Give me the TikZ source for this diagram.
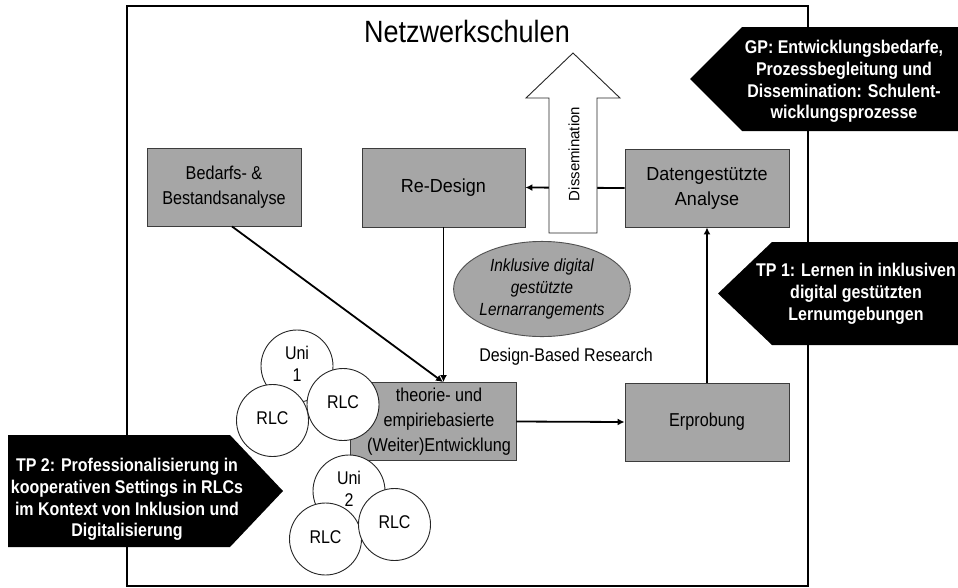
\documentclass[tikz,border=0pt]{standalone}
\usepackage{fontspec}
\setmainfont{Liberation Sans}
\usepackage{graphicx}
\usetikzlibrary{arrows.meta,shapes.geometric}

% centred, slightly tall text block
\newcommand{\tallt}[2][1.15]{\scalebox{1}[#1]{\begin{tabular}{@{}c@{}}#2\end{tabular}}}

\definecolor{boxgray}{RGB}{166,166,166}
\definecolor{boxline}{RGB}{60,60,60}
\definecolor{ellline}{RGB}{80,80,80}

\tikzset{
  box/.style={draw=boxline, fill=boxgray, line width=0.9pt, inner sep=0pt,
    font=\fontsize{16.2}{21.7}\selectfont},
  bigbox/.style={box, font=\fontsize{18}{23.5}\selectfont},
  ring/.style={circle, draw=black!85, fill=white, line width=0.9pt,
    minimum size=72pt, inner sep=0pt, font=\fontsize{16}{19}\selectfont},
  conn/.style={line width=1.8pt, -{Latex[length=7pt,width=7pt]}},
  lbl/.style={text=white, inner sep=0pt,
    font=\fontsize{16}{18.9}\selectfont\bfseries},
}

\begin{document}
\begin{tikzpicture}[x=1pt,y=-1pt]
\useasboundingbox (0,0) rectangle (958,587);

% network frame
\draw[line width=2.2pt] (127,6) rectangle (808,586);
\node[font=\fontsize{27}{32}\selectfont] (title) at (467,35.5) {\tallt[1.14]{Netzwerkschulen}};

% design cycle
\node[box, minimum width=154pt, minimum height=78pt] (bedarf) at (224,187)
  {\tallt{Bedarfs- \&\\Bestandsanalyse}};
\node[bigbox, minimum width=163pt, minimum height=79pt] (redesign) at (443.5,187.5)
  {\tallt[1.05]{Re-Design}};
\node[bigbox, minimum width=164pt, minimum height=78pt] (daten) at (707,188)
  {\tallt[1.05]{Datengestützte\\Analyse}};
\node[box, minimum width=166pt, minimum height=78pt] (theorie) at (433,421.5)
  {\hspace*{12pt}\tallt{theorie- und\\empiriebasierte\\(Weiter)Entwicklung}};
\node[box, minimum width=164pt, minimum height=78pt] (erprobung) at (707,422)
  {\tallt{Erprobung}};

\draw[conn] (daten.west) -- (redesign.east);
\draw[conn] ([xshift=8pt]bedarf.south) -- ([xshift=10pt]theorie.north);
\draw[conn] (redesign.south) -- (redesign.south |- theorie.north);
\draw[conn] (theorie.east) -- (erprobung.west);
\draw[conn] (erprobung.north) -- (daten.south);

% dissemination arrow
\draw[fill=white, draw=black!85, line width=0.9pt]
  (549,233) -- (549,98) -- (526,98) -- (573,53) -- (620,98) -- (597,98) -- (597,233) -- cycle;
\node[rotate=90, font=\fontsize{15}{18}\selectfont] (dissem) at (574,154) {Dissemination};

% learning arrangements
\node[ellipse, draw=ellline, fill=boxgray, line width=0.9pt, inner sep=0pt,
  minimum width=172pt, minimum height=82pt,
  font=\fontsize{15.3}{19.5}\selectfont\itshape] (arrang) at (542,289)
  {\tallt{Inklusive digital\\gestützte\\Lernarrangements}};
\node[font=\fontsize{16}{19}\selectfont] (dbr) at (566,357) {\tallt{Design-Based Research}};

% universities and RLCs
\node[ring] (uni1) at (297,366) {\tallt{Uni\\1}};
\node[ring] (rlca) at (272.5,420.5) {\tallt{RLC}};
\node[ring] (rlcb) at (343,404.5) {\tallt{RLC}};
\node[ring] (uni2) at (349,491) {\tallt{Uni\\2}};
\node[ring] (rlcc) at (325.5,539) {\tallt{RLC}};
\node[ring] (rlcd) at (394.5,524.5) {\tallt{RLC}};

% sub-project tags
\fill (690,79) -- (742,27) -- (958,27) -- (958,131) -- (742,131) -- cycle;
\node[lbl] (gp) at (844,82)
  {\tallt{GP: Entwicklungsbedarfe,\\Prozessbegleitung und\\Dissemination: Schulent-\\wicklungsprozesse}};

\fill (718,293.5) -- (772,242) -- (958,242) -- (958,345) -- (772,345) -- cycle;
\node[lbl] (tp1) at (856,294)
  {\tallt{TP 1: Lernen in inklusiven\\digital gestützten\\Lernumgebungen}};

\fill (8,435) -- (230,435) -- (283,491) -- (230,547) -- (8,547) -- cycle;
\node[lbl] (tp2) at (127,500)
  {\tallt{TP 2: Professionalisierung in\\kooperativen Settings in RLCs\\im Kontext von Inklusion und\\Digitalisierung}};
\end{tikzpicture}
\end{document}
